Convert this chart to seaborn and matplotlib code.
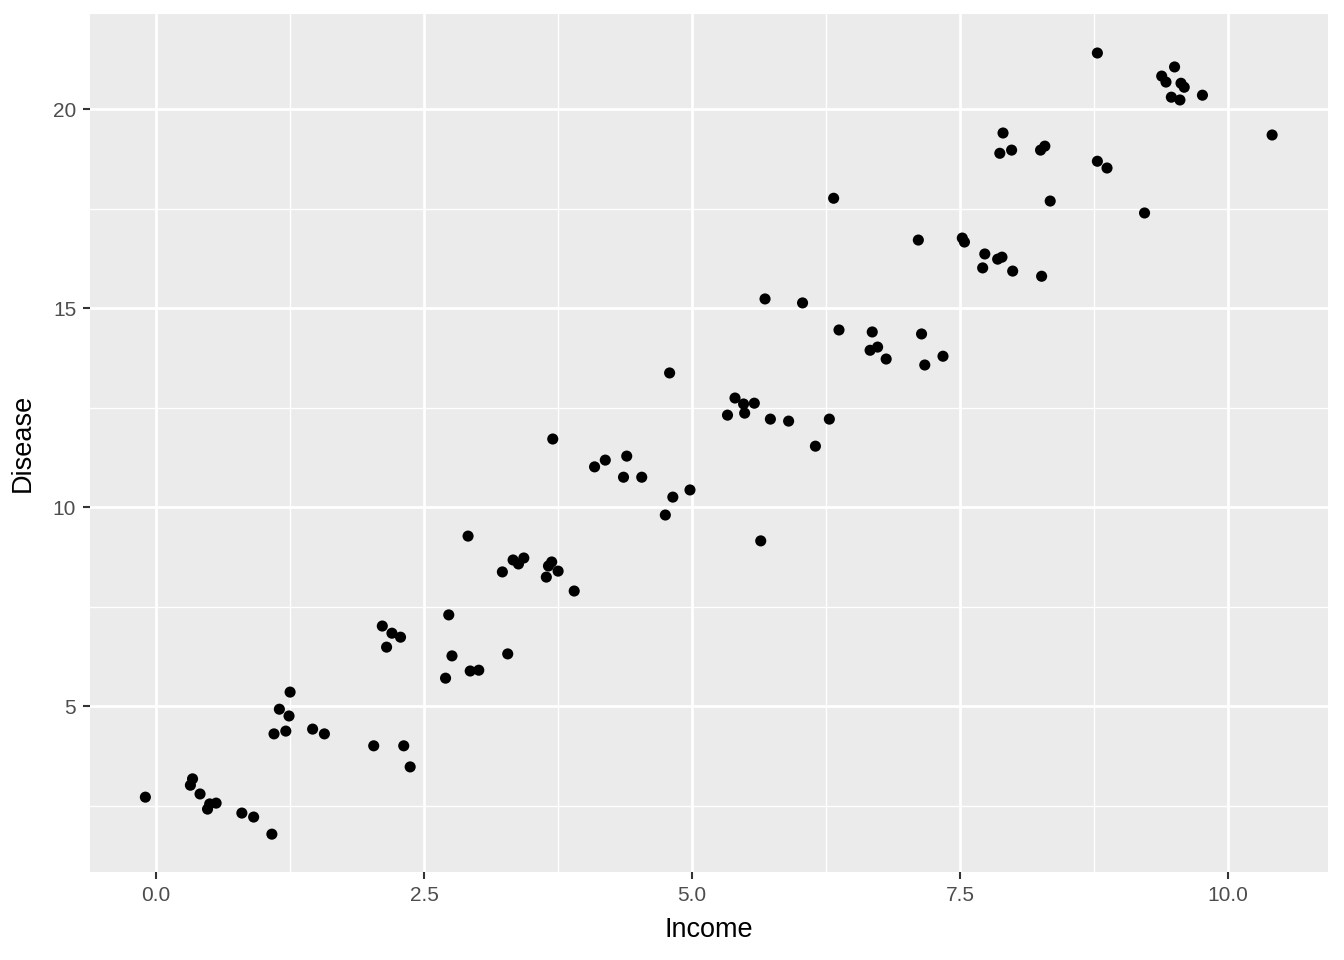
import matplotlib
matplotlib.use("Agg")
import matplotlib.pyplot as plt
import seaborn as sns
import pandas as pd
import numpy as np
from matplotlib.ticker import FixedLocator

income = [-0.10, 0.32, 0.34, 0.41, 0.48, 0.50, 0.56, 0.80, 0.91, 1.08,
          1.10, 1.15, 1.21, 1.24, 1.25, 1.46, 1.57, 2.03, 2.11, 2.15,
          2.20, 2.28, 2.31, 2.37, 2.70, 2.73, 2.76, 2.91, 2.93, 3.01,
          3.23, 3.28, 3.33, 3.38, 3.43, 3.64, 3.66, 3.69, 3.70, 3.75,
          3.90, 4.09, 4.19, 4.36, 4.39, 4.53, 4.75, 4.79, 4.82, 4.98,
          5.33, 5.40, 5.48, 5.49, 5.58, 5.64, 5.68, 5.73, 5.90, 6.03,
          6.15, 6.28, 6.32, 6.37, 6.66, 6.68, 6.73, 6.81, 7.11, 7.14,
          7.17, 7.34, 7.52, 7.54, 7.71, 7.73, 7.85, 7.89, 7.87, 7.90,
          7.98, 7.99, 8.25, 8.29, 8.26, 8.34, 8.78, 8.78, 8.87, 9.22,
          9.38, 9.42, 9.47, 9.50, 9.55, 9.56, 9.59, 9.76, 10.41]
disease = [2.71, 3.01, 3.17, 2.79, 2.41, 2.54, 2.56, 2.31, 2.21, 1.78,
           4.30, 4.92, 4.37, 4.75, 5.35, 4.42, 4.30, 4.00, 7.01, 6.48,
           6.83, 6.73, 4.00, 3.47, 5.70, 7.29, 6.26, 9.27, 5.88, 5.90,
           8.37, 6.31, 8.67, 8.57, 8.72, 8.24, 8.52, 8.62, 11.71, 8.39,
           7.89, 11.01, 11.18, 10.75, 11.28, 10.75, 9.80, 13.37, 10.25, 10.43,
           12.31, 12.74, 12.59, 12.36, 12.61, 9.15, 15.23, 12.21, 12.16, 15.13,
           11.53, 12.21, 17.76, 14.45, 13.94, 14.40, 14.02, 13.72, 16.71, 14.35,
           13.57, 13.79, 16.76, 16.66, 16.01, 16.36, 16.23, 16.28, 18.89, 19.40,
           18.97, 15.93, 18.97, 19.07, 15.80, 17.69, 21.41, 18.69, 18.52, 17.39,
           20.83, 20.68, 20.30, 21.06, 20.23, 20.65, 20.55, 20.35, 19.35]

x_ticks = [0.0, 2.5, 5.0, 7.5, 10.0]
x_labels = ["0.0", "2.5", "5.0", "7.5", "10.0"]
y_ticks = [5, 10, 15, 20]
y_labels = ["5", "10", "15", "20"]

df = pd.DataFrame({"Income": income, "Disease": disease})

sns.set_theme(style="darkgrid")
plt.rcParams["font.family"] = ["Liberation Sans", "DejaVu Sans"]

fig = plt.figure(figsize=(13.44, 9.6), dpi=100)
ax = fig.add_axes([0.067, 0.0917, 0.921, 0.8937])
ax.set_facecolor("#EBEBEB")

sns.scatterplot(data=df, x="Income", y="Disease", ax=ax, color="black",
                s=64, edgecolor="none", linewidth=0, zorder=3)

ax.set_xlim(-0.616, 10.93)
ax.set_ylim(0.83, 22.39)
ax.xaxis.set_major_locator(FixedLocator(x_ticks))
ax.set_xticklabels(x_labels)
ax.yaxis.set_major_locator(FixedLocator(y_ticks))
ax.set_yticklabels(y_labels)
ax.xaxis.set_minor_locator(FixedLocator([-1.25 + 2.5 * i for i in range(7)]))
ax.yaxis.set_minor_locator(FixedLocator([2.5, 7.5, 12.5, 17.5, 22.5]))

ax.grid(which="major", color="white", linewidth=2.0)
ax.grid(which="minor", color="white", linewidth=1.0)
ax.set_axisbelow(True)
for sp in ax.spines.values():
    sp.set_visible(False)

ax.tick_params(axis="both", which="major", length=5, width=1.5, color="#333333",
               labelcolor="#4D4D4D", labelsize=15, pad=5, direction="out",
               bottom=True, left=True)
ax.tick_params(axis="both", which="minor", length=0)
ax.set_xlabel("Income", fontsize=19.5, color="black", labelpad=9)
ax.set_ylabel("Disease", fontsize=19.5, color="black", labelpad=12)

fig.savefig("out.png", dpi=100)
